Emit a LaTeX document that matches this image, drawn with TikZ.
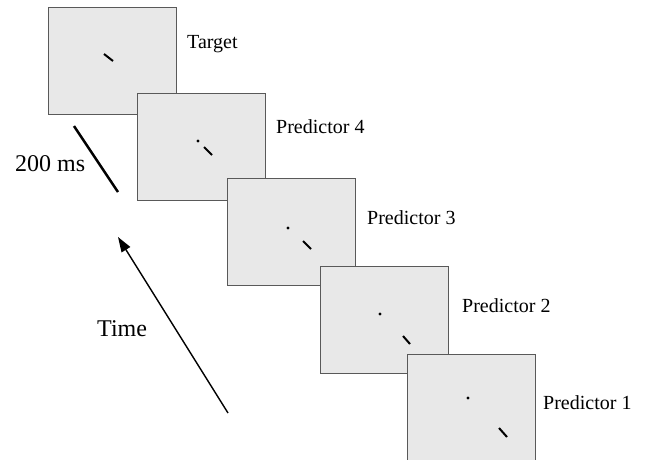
\documentclass[tikz,border=0pt]{standalone}
\usepackage{fontspec}
\setmainfont{Liberation Serif}
\usetikzlibrary{arrows.meta}
\tikzset{
  bild/.style={rectangle, draw=black!65, fill=black!9, line width=1.3pt,
    minimum width=128pt, minimum height=107pt, inner sep=0pt, anchor=north west},
  titel/.style={anchor=base west, inner sep=0pt, font=\fontsize{20}{24}\selectfont},
  achse/.style={anchor=base west, inner sep=0pt, font=\fontsize{24}{28}\selectfont},
  reiz/.style={line width=2pt},
}

\begin{document}
\begin{tikzpicture}[x=1pt,y=-1pt]
			\useasboundingbox (0,0) rectangle (648,459);
			\clip (0,0) rectangle (648,459);
			% Bilder zeichnen
			\node[bild] (target) at (48,7) {};
			\draw[reiz] (104,54) -- (113,61);
			\node[bild] (pred4) at (137,93) {};
			\fill (198,141) circle (1.6pt);
			\draw[reiz] (204,147) -- (212,155);
			\node[bild] (pred3) at (227,178) {};
			\fill (288,228) circle (1.6pt);
			\draw[reiz] (303,241) -- (311,249);
			\node[bild] (pred2) at (320,266) {};
			\fill (380,314) circle (1.6pt);
			\draw[reiz] (403,336) -- (410,344);
			\node[bild] (pred1) at (407,354) {};
			\fill (468,398) circle (1.6pt);
			\draw[reiz] (499,428) -- (507,437);
			% Bilder beschriften
			\node[titel] (lblTarget) at (187,48) {Target};
			\node[titel] (lblPred4) at (276,133) {Predictor 4};
			\node[titel] (lblPred3) at (367,224) {Predictor 3};
			\node[titel] (lblPred2) at (462,312) {Predictor 2};
			\node[titel] (lblPred1) at (543,409) {Predictor 1};
			% Zeitachse zeichnen
			\coordinate (zeitAnfang) at (228,413);
			\coordinate (zeitEnde) at (118,237);
			\draw[line width=1.4pt, -{Triangle[length=15pt,width=10pt]}] (zeitAnfang) -- (zeitEnde);
			\node[achse] (zeit) at (97,336) {Time};
			% Dauer zeichnen
			\coordinate (dauerAnfang) at (74,126);
			\coordinate (dauerEnde) at (118,192);
			\draw[line width=2.5pt] (dauerAnfang) -- (dauerEnde);
			\node[achse] (dauer) at (15,171) {200 ms};
		\end{tikzpicture}
\end{document}
